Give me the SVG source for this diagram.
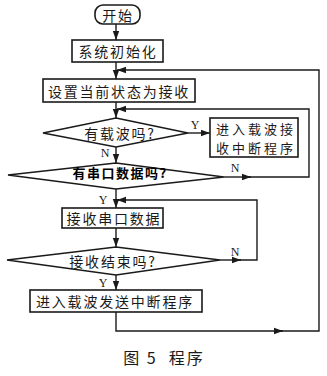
<svg xmlns="http://www.w3.org/2000/svg" width="327" height="376" viewBox="0 0 327 376">
<defs>
<marker id="ah" markerUnits="userSpaceOnUse" markerWidth="10" markerHeight="8" refX="9" refY="4" orient="auto">
<path d="M0,0.8 L9,4 L0,7.2 Z" fill="#1a1a1a"/>
</marker>
<style>
.box{fill:#fff;stroke:#1a1a1a;stroke-width:1.6}
.ln{fill:none;stroke:#1a1a1a;stroke-width:1.4}
.t{font-family:"Noto Sans CJK SC","Liberation Serif",sans-serif;font-size:14px;fill:#1a1a1a;text-anchor:middle;dominant-baseline:central;letter-spacing:1.8px}
.ts{font-family:"Noto Sans CJK SC","Liberation Serif",sans-serif;font-size:13px;fill:#1a1a1a;text-anchor:middle;dominant-baseline:central;letter-spacing:3px}
.yn{font-family:"Liberation Serif",serif;font-size:12px;fill:#1a1a1a;text-anchor:middle;dominant-baseline:central}
.t2{font-family:"Noto Sans CJK SC",sans-serif;font-size:13px;font-weight:bold;fill:#000;text-anchor:middle;dominant-baseline:central;letter-spacing:1.5px}
</style>
</defs>
<rect width="327" height="376" fill="#fff"/>
<g id="connectors">
<path class="ln" d="M116,24 L116,40" marker-end="url(#ah)"/>
<path class="ln" d="M116,62 L116,79" marker-end="url(#ah)"/>
<path class="ln" d="M116,102 L116,118" marker-end="url(#ah)"/>
<path class="ln" d="M116,147 L116,163" marker-end="url(#ah)"/>
<path class="ln" d="M188,133 L210,133" marker-end="url(#ah)"/>
<path class="ln" d="M116,189 L116,208" marker-end="url(#ah)"/>
<path class="ln" d="M116,228 L116,247" marker-end="url(#ah)"/>
<path class="ln" d="M116,275 L116,290" marker-end="url(#ah)"/>
<path class="ln" d="M224,177 L251,177" marker-end="url(#ah)"/>
<path class="ln" d="M248,177 L309,177 L309,109 L117,109" marker-end="url(#ah)"/>
<path class="ln" d="M220,260 L241,260" marker-end="url(#ah)"/>
<path class="ln" d="M238,260 L257,260 L257,200 L117,200" marker-end="url(#ah)"/>
<path class="ln" d="M116,312 L116,331 L283,331" marker-end="url(#ah)"/>
<path class="ln" d="M280,331 L319,331 L319,70 L117,70" marker-end="url(#ah)"/>
<text class="yn" x="195" y="125">Y</text>
<text class="yn" x="105" y="153">N</text>
<text class="yn" x="235" y="168">N</text>
<text class="yn" x="103" y="200">Y</text>
<text class="yn" x="235" y="252">N</text>
<text class="yn" x="103" y="283">Y</text>
</g>
<g id="start">
<rect class="box" x="95" y="5" width="45" height="19" rx="8"/>
<text class="t" x="118" y="14.5">开始</text>
</g>
<g id="init">
<rect class="box" x="72" y="40" width="91" height="22"/>
<text class="t" x="118" y="51">系统初始化</text>
</g>
<g id="setstate">
<rect class="box" x="43" y="79" width="152" height="23"/>
<text class="t" x="119" y="90.5">设置当前状态为接收</text>
</g>
<g id="carrier">
<polygon class="box" points="116,118 188,133 116,147 43,133"/>
<text class="t" x="120" y="133">有载波吗?</text>
</g>
<g id="carrierrx">
<rect class="box" x="210" y="118" width="88" height="39"/>
<text class="ts" x="256" y="128">进入载波接</text>
<text class="ts" x="256" y="147">收中断程序</text>
</g>
<g id="serial">
<polygon class="box" points="116,163 224,177 116,189 8,175"/>
<text class="t2" x="120" y="172">有串口数据吗?</text>
</g>
<g id="rxserial">
<rect class="box" x="62" y="208" width="101" height="20"/>
<text class="t" x="114" y="218">接收串口数据</text>
</g>
<g id="rxend">
<polygon class="box" points="116,247 220,260 116,275 7,260"/>
<text class="t" x="113" y="261">接收结束吗?</text>
</g>
<g id="carriertx">
<rect class="box" x="30" y="290" width="172" height="22"/>
<text class="t" x="115" y="301">进入载波发送中断程序</text>
</g>
<text x="164" y="357" font-family="Noto Sans CJK SC, sans-serif" font-size="16" letter-spacing="2" fill="#1a1a1a" text-anchor="middle" dominant-baseline="central" xml:space="preserve">图 5  程序</text>
</svg>
